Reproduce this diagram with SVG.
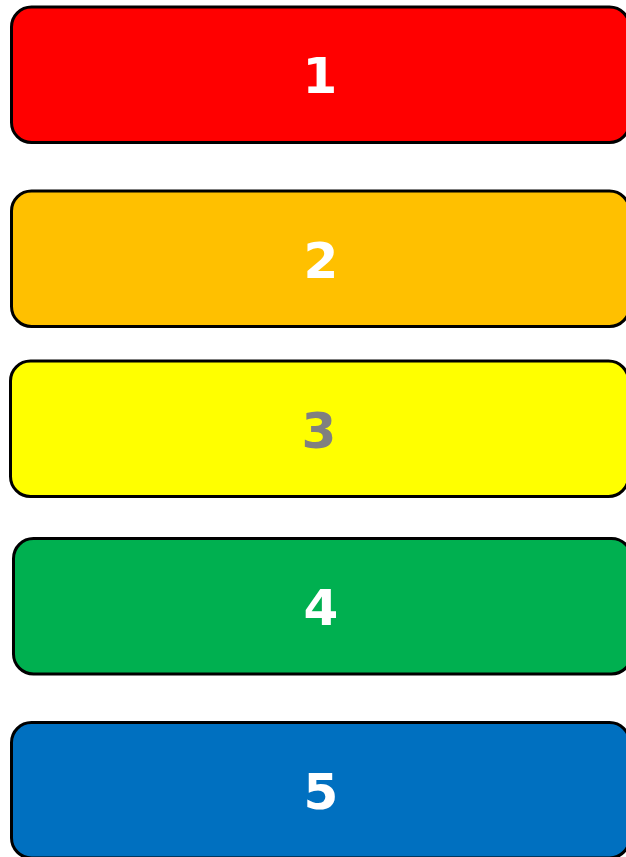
<svg xmlns="http://www.w3.org/2000/svg" width="626" height="857" viewBox="0 0 626 857">
<style>
.box{stroke:#000;stroke-width:3}
.lbl{font-family:"DejaVu Sans",sans-serif;font-weight:bold;font-size:50px;text-anchor:middle;fill:#fff}
</style>
<rect width="626" height="857" fill="#fff"/>
<g id="node1"><rect class="box" x="11.5" y="7" width="618" height="135.5" rx="20" fill="#ff0000"/><text class="lbl" x="320" y="93">1</text></g>
<g id="node2"><rect class="box" x="11.5" y="191" width="618" height="135.5" rx="20" fill="#ffc000"/><text class="lbl" x="321" y="278">2</text></g>
<g id="node3"><rect class="box" x="10.5" y="361" width="618" height="135.5" rx="20" fill="#ffff00"/><text class="lbl" x="319" y="448" style="fill:#808080">3</text></g>
<g id="node4"><rect class="box" x="13.5" y="538.5" width="618" height="135.5" rx="20" fill="#00b050"/><text class="lbl" x="321" y="625">4</text></g>
<g id="node5"><rect class="box" x="11.5" y="722.5" width="618" height="135.5" rx="20" fill="#0070c0"/><text class="lbl" x="321" y="809">5</text></g>
<g id="connectors"></g>
</svg>
